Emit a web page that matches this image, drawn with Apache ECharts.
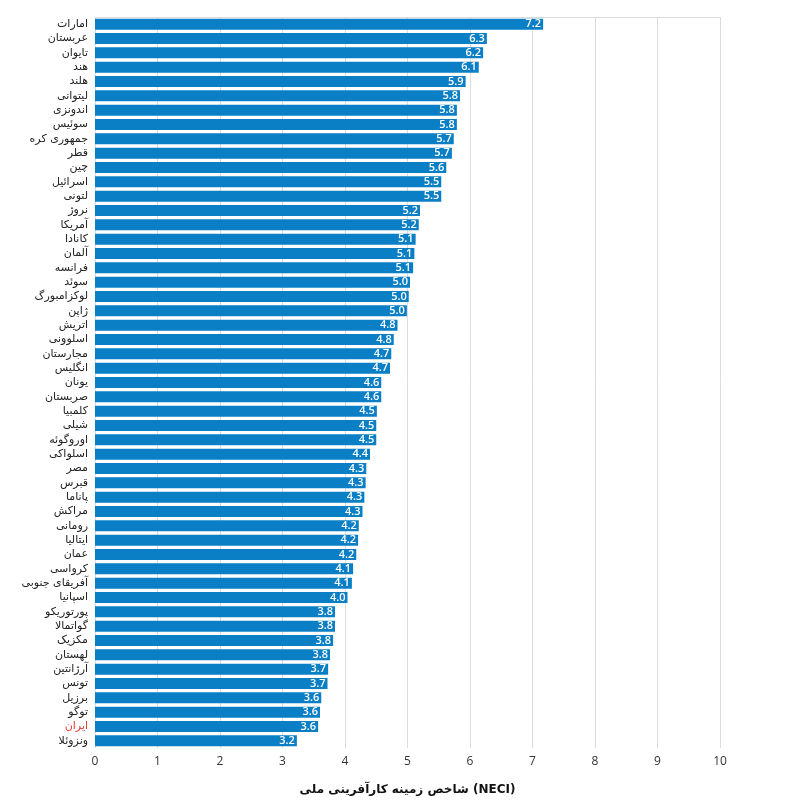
<!DOCTYPE html>
<html>
<head>
<meta charset="utf-8">
<script src="https://cdn.jsdelivr.net/npm/echarts@6/dist/echarts.min.js"></script>
<style>
  html, body { margin: 0; padding: 0; background: #fff; }
  #chart { width: 800px; height: 809px; }
</style>
</head>
<body>
<div id="chart"></div>
<script>
var countries = ['امارات', 'عربستان', 'تایوان', 'هند', 'هلند', 'لیتوانی', 'اندونزی', 'سوئیس',
    'جمهوری کره', 'قطر', 'چین', 'اسرائیل', 'لتونی', 'نروژ', 'آمریکا', 'کانادا', 'آلمان',
    'فرانسه', 'سوئد', 'لوکزامبورگ', 'ژاپن', 'اتریش', 'اسلوونی', 'مجارستان', 'انگلیس',
    'یونان', 'صربستان', 'کلمبیا', 'شیلی', 'اوروگوئه', 'اسلواکی', 'مصر', 'قبرس', 'پاناما',
    'مراکش', 'رومانی', 'ایتالیا', 'عمان', 'کرواسی', 'آفریقای جنوبی', 'اسپانیا', 'پورتوریکو',
    'گواتمالا', 'مکزیک', 'لهستان', 'آرژانتین', 'تونس', 'برزیل', 'توگو', 'ایران', 'ونزوئلا'];

var neci = [7.17, 6.27, 6.21, 6.14, 5.93, 5.84, 5.79, 5.79, 5.74, 5.71, 5.62, 5.54, 5.54,
    5.2, 5.18, 5.13, 5.11, 5.09, 5.04, 5.02, 4.99, 4.84, 4.78, 4.74, 4.72,
    4.58, 4.58, 4.51, 4.5, 4.5, 4.4, 4.34, 4.33, 4.31, 4.28, 4.22, 4.21, 4.18, 4.13,
    4.11, 4.04, 3.84, 3.84, 3.81, 3.76, 3.73, 3.72, 3.62, 3.6, 3.57, 3.23];

var highlight = 'ایران';

var myChart = echarts.init(document.getElementById('chart'));

var option = {
    backgroundColor: '#fff',
    animation: false,
    grid: { left: 95, right: 80, top: 17, bottom: 61 },
    xAxis: [
        {
            type: 'value',
            min: 0,
            max: 10,
            interval: 1,
            name: 'شاخص زمینه کارآفرینی ملی (NECI)',
            nameLocation: 'middle',
            nameGap: 36,
            nameTextStyle: { fontFamily: 'DejaVu Sans', fontSize: 12, fontWeight: 'bold', color: '#111' },
            axisLine: { show: false },
            axisTick: { show: false },
            axisLabel: { color: '#333', fontFamily: 'Open Sans', fontSize: 12, margin: 8 },
            splitLine: { lineStyle: { color: '#dcdcdc', width: 1 } }
        },
        {
            type: 'value',
            position: 'top',
            min: 0,
            max: 10,
            axisLine: { show: true, lineStyle: { color: '#dcdcdc' } },
            axisTick: { show: false },
            axisLabel: { show: false },
            splitLine: { show: false }
        }
    ],
    yAxis: {
        type: 'category',
        inverse: true,
        data: countries,
        axisLine: { show: false },
        axisTick: { show: false },
        axisLabel: {
            fontFamily: 'DejaVu Sans',
            fontSize: 11,
            margin: 7,
            color: function (v) { return v === highlight ? '#e53935' : '#222'; }
        }
    },
    series: [{
        type: 'bar',
        data: neci,
        barWidth: 11,
        itemStyle: { color: '#0a7fc5' },
        label: {
            show: true,
            position: 'insideRight',
            distance: 2,
            color: '#fff',
            fontFamily: 'Open Sans',
            fontWeight: 600,
            fontSize: 11,
            formatter: function (p) { return p.value.toFixed(1); }
        }
    }]
};

myChart.setOption(option);
</script>
</body>
</html>
